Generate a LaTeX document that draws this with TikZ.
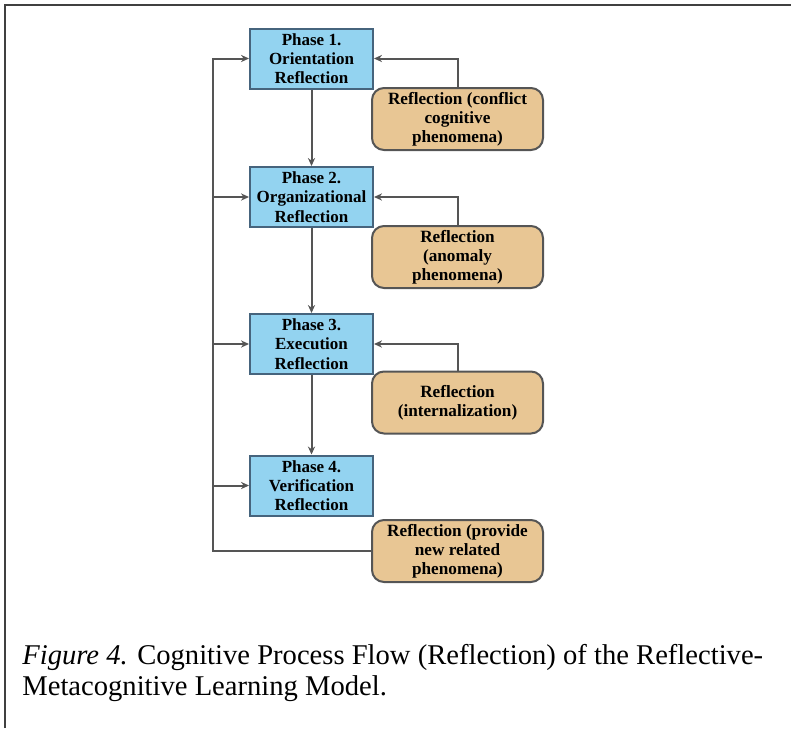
\documentclass[tikz,border=0pt]{standalone}
\usepackage{fontspec}
\setmainfont{Liberation Serif}
\usetikzlibrary{arrows.meta}
\definecolor{phaseblue}{RGB}{147,211,240}
\definecolor{phaseedge}{RGB}{70,100,125}
\definecolor{reflorange}{RGB}{232,198,148}
\definecolor{refledge}{RGB}{85,85,85}
\definecolor{wire}{RGB}{85,85,85}
\tikzset{
phase/.style={
	draw=phaseedge, fill=phaseblue, line width=1pt, align=center,
	font=\bfseries\fontsize{8.5}{9.6}\selectfont,
	minimum width=61.5pt, minimum height=30pt, inner sep=2pt},
refl/.style={
	draw=refledge, fill=reflorange, line width=1pt, rounded corners=6pt,
	align=center, font=\bfseries\fontsize{8.6}{9.6}\selectfont,
	minimum width=85.5pt, minimum height=31pt, inner sep=1pt},
flow/.style={
	draw=wire, line width=1pt, -{Stealth[length=4pt,width=3.6pt]}}
}

\begin{document}
\begin{tikzpicture}[x=0.5pt, y=-0.5pt]
	\useasboundingbox (0,0) rectangle (791,728);
	\draw[black!75, line width=1pt] (4.5,728) -- (4.5,4.5) -- (791,4.5);
	\node[phase] (p1) at (311.5,58.5) {Phase 1.\\Orientation\\Reflection};
	\node[phase] (p2) at (311.5,197) {Phase 2.\\Organizational\\Reflection};
	\node[phase] (p3) at (311.5,344) {Phase 3.\\Execution\\Reflection};
	\node[phase] (p4) at (311.5,485.5) {Phase 4.\\Verification\\Reflection};
	\node[refl] (r1) at (457.5,119) {Reflection (conflict\\cognitive\\phenomena)};
	\node[refl] (r2) at (457.5,257) {Reflection\\(anomaly\\phenomena)};
	\node[refl] (r3) at (457.5,402.5) {Reflection\\(internalization)};
	\node[refl] (r4) at (457.5,551) {Reflection (provide\\new related\\phenomena)};
	\foreach \a/\b in {p1/p2, p2/p3, p3/p4}
		\draw[flow] (\a) -- (\b);
	\foreach \n in {1,2,3}
		\draw[flow] (r\n.north) |- (p\n.east);
	\coordinate (bus) at (213,58.5);
	\draw[flow] (r4.west) -| (bus) -- (p1.west);
	\foreach \n in {p2,p3,p4}
		\draw[flow] (bus |- \n.west) -- (\n.west);
	\node[anchor=base west, align=left, inner sep=0pt, font=\fontsize{14.3}{15.5}\selectfont] (cap) at (22,695)
		{\textit{Figure 4.} Cognitive Process Flow (Reflection) of the Reflective-\\Metacognitive Learning Model.};
\end{tikzpicture}
\end{document}
